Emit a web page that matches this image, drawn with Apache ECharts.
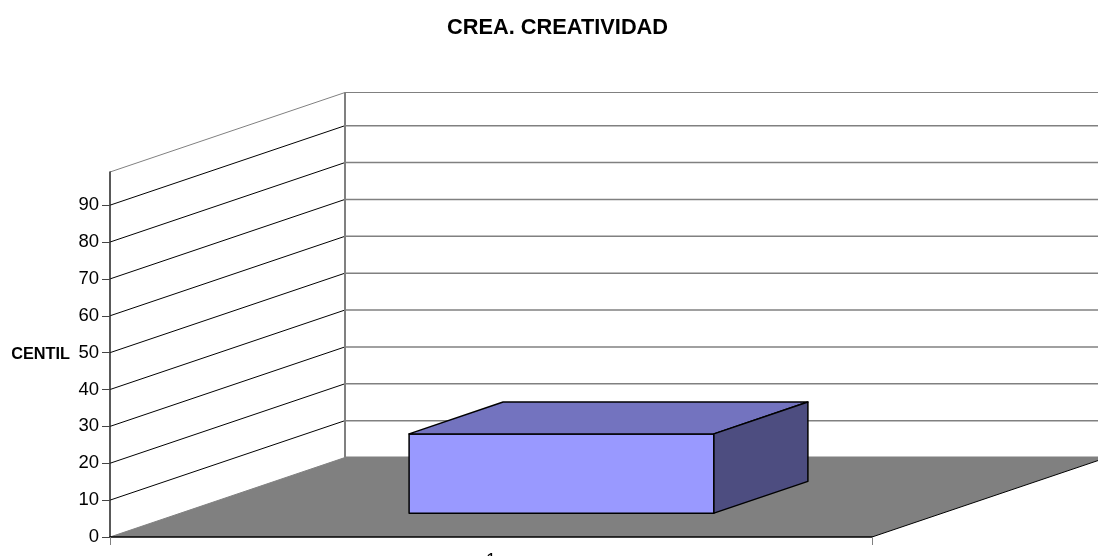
<!DOCTYPE html>
<html>
<head>
<meta charset="utf-8">
<title>CREA. CREATIVIDAD</title>
<script src="https://cdn.jsdelivr.net/npm/echarts@6/dist/echarts.min.js"></script>
<style>
  html, body { margin: 0; padding: 0; background: #fff; }
  #chart { width: 1098px; height: 556px; }
</style>
</head>
<body>
<div id="chart"></div>
<script>
const categories = ['1']
const centilValues = [21.5]
const gridTicks = [0, 10, 20, 30, 40, 50, 60, 70, 80, 90]
const axisMax = 99

// pseudo-3d: how far the back wall sits from the front plane, in pixels
const depthX = 235
const depthY = -79.5
// the bar takes the middle part of the floor depth and of the category band
const barDepthFrom = 0.3
const barDepthTo = 0.7
const barWidthRatio = 0.4

const fontFamily = '"Liberation Sans", Arial, sans-serif'

function project (api, index, value, offset, depth) {
  let p = api.coord([index, value])
  let band = api.size([1, 0])[0]
  return [p[0] + offset * band + depth * depthX, p[1] + depth * depthY]
}

function polygon (points, fill, stroke, lineWidth) {
  return {
    type: 'polygon',
    shape: { points },
    style: { fill, stroke, lineWidth, lineJoin: 'round' }
  }
}

function line (a, b, stroke, lineWidth) {
  return {
    type: 'line',
    shape: { x1: a[0], y1: a[1], x2: b[0], y2: b[1] },
    style: { stroke, lineWidth }
  }
}

function renderWalls (params, api) {
  let children = []
  let at = (offset, value, depth) => project(api, 0, value, offset, depth)
  // floor
  children.push(polygon([at(-0.5, 0, 0), at(0.5, 0, 0), at(0.5, 0, 1), at(-0.5, 0, 1)], '#808080', null, 0))
  children.push(line(at(0.5, 0, 0), at(0.5, 0, 1), '#000', 1))
  children.push(line(at(-0.5, 0, 0), at(-0.5, 0, 1), '#808080', 1))
  // side wall and back wall lines for each tick, and the top edge
  gridTicks.forEach(tick => {
    if (tick > 0) children.push(line(at(-0.5, tick, 0), at(-0.5, tick, 1), '#000', 1))
    children.push(line(at(-0.5, tick, 1), at(0.5, tick, 1), '#808080', tick === 0 ? 2 : 1.5))
  })
  children.push(line(at(-0.5, axisMax, 0), at(-0.5, axisMax, 1), '#808080', 1))
  children.push(line(at(-0.5, axisMax, 1), at(0.5, axisMax, 1), '#808080', 1))
  children.push(line(at(-0.5, 0, 1), at(-0.5, axisMax, 1), '#808080', 2))
  return { type: 'group', children }
}

function renderBar (params, api) {
  let index = api.value(0)
  let value = api.value(1)
  let half = barWidthRatio / 2
  let at = (offset, v, depth) => project(api, index, v, offset, depth)
  let stroke = '#000'
  return {
    type: 'group',
    children: [
      polygon([at(-half, value, barDepthFrom), at(half, value, barDepthFrom), at(half, 0, barDepthFrom), at(-half, 0, barDepthFrom)], '#9999ff', stroke, 1.5),
      polygon([at(-half, value, barDepthFrom), at(half, value, barDepthFrom), at(half, value, barDepthTo), at(-half, value, barDepthTo)], '#7373bf', stroke, 1.5),
      polygon([at(half, value, barDepthFrom), at(half, value, barDepthTo), at(half, 0, barDepthTo), at(half, 0, barDepthFrom)], '#4d4d80', stroke, 1.5)
    ]
  }
}

let myChart = echarts.init(document.getElementById('chart'), null, { renderer: 'canvas' })
myChart.setOption({
  animation: false,
  title: {
    text: 'CREA. CREATIVIDAD',
    left: 552.5,
    top: 12,
    textAlign: 'center',
    textStyle: { fontFamily, fontSize: 21.8, fontWeight: 'bold', color: '#000' }
  },
  grid: { left: 110, width: 762, top: 172, height: 365, outerBoundsMode: 'none' },
  xAxis: {
    type: 'category',
    data: categories,
    z: 5,
    axisLine: { lineStyle: { color: '#000', width: 1.5 } },
    axisTick: { show: true, alignWithLabel: false, length: 8, lineStyle: { color: '#808080', width: 1 } },
    axisLabel: { fontFamily, fontSize: 18, color: '#000', margin: 15 },
    splitLine: { show: false }
  },
  yAxis: {
    type: 'value',
    min: 0,
    max: axisMax,
    interval: 10,
    z: 5,
    name: 'CENTIL',
    nameLocation: 'middle',
    nameRotate: 0,
    nameGap: 40,
    nameMoveOverlap: false,
    nameTextStyle: { fontFamily, fontSize: 16.3, fontWeight: 'bold', color: '#000', padding: [0, 0, 7, 0] },
    axisLine: { show: true, lineStyle: { color: '#222', width: 1.5 } },
    axisTick: { show: true, length: 8, lineStyle: { color: '#444', width: 1 } },
    axisLabel: { fontFamily, fontSize: 18.5, color: '#000', margin: 11, showMaxLabel: false },
    splitLine: { show: false }
  },
  series: [
    {
      type: 'custom',
      name: 'walls',
      z: 1,
      silent: true,
      renderItem: renderWalls,
      data: [[0, 0]]
    },
    {
      type: 'custom',
      name: 'CENTIL',
      z: 2,
      renderItem: renderBar,
      encode: { x: 0, y: 1 },
      data: categories.map((c, i) => [i, centilValues[i]])
    }
  ]
})
</script>
</body>
</html>
